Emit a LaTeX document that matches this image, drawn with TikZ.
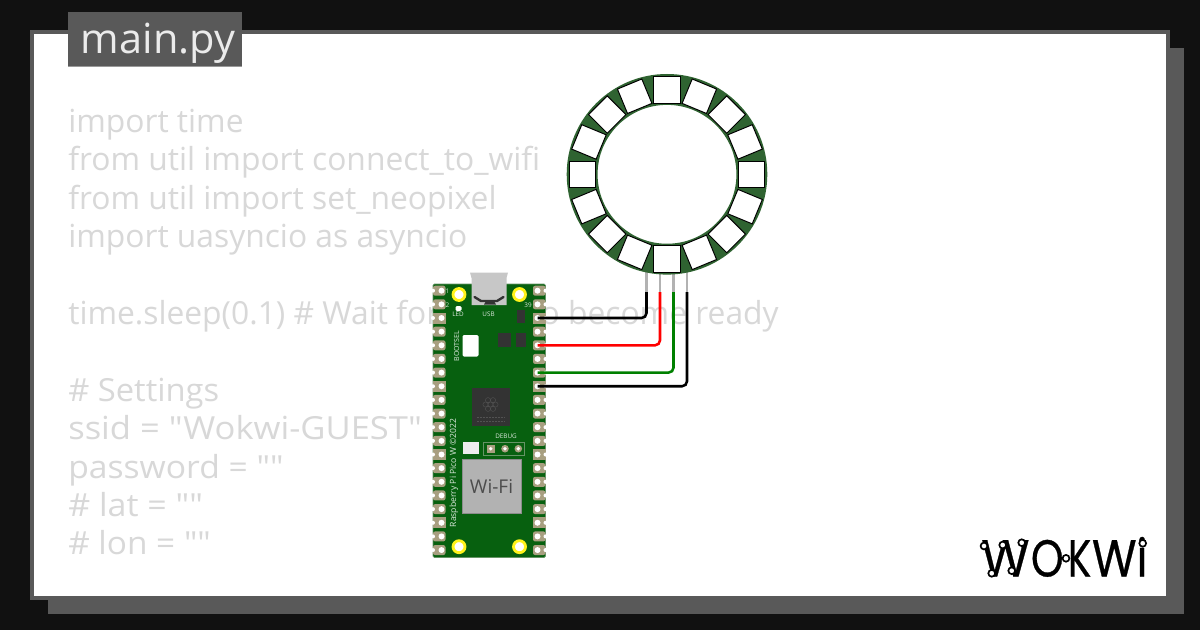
\documentclass[tikz,border=0pt]{standalone}
\usepackage{fontspec}
\setmainfont{Open Sans}
\newfontfamily\codefont{Open Sans}
\newfontfamily\logofont[FakeBold=0.6]{Poppins}
\definecolor{pagedark}{HTML}{111111}
\definecolor{cardgray}{HTML}{595959}
\definecolor{codegray}{HTML}{D8D8D8}
\definecolor{boardgreen}{HTML}{07600F}
\definecolor{ringgreen}{HTML}{2F6331}
\definecolor{padtan}{HTML}{A89F80}
\definecolor{chipdark}{HTML}{333333}
\begin{document}
\begin{tikzpicture}[x=0.025cm, y=-0.025cm,
    codeline/.style={anchor=base west, inner sep=0, text=codegray, font=\codefont\fontsize{22.6}{27}\selectfont},
    silk/.style={inner sep=0, text=white!85!boardgreen, font=\fontsize{4.5}{5}\selectfont},
    led/.style={draw=black, fill=white, line width=0.7pt, minimum size=0.66cm, inner sep=0},
    mounthole/.style={circle, draw=yellow!90!white, fill=white, line width=2pt, minimum size=0.3cm, inner sep=0},
    logoring/.style={circle, draw=black, fill=white, line width=1.2pt, minimum size=0.17cm, inner sep=0},
    wire/.style={line width=1.8pt, rounded corners=3.5pt},
    ringpin/.style={line width=1.8pt, color=black!30}]

  % page and card
  \useasboundingbox (0,0) rectangle (1200,630);
  \fill[pagedark] (0,0) rectangle (1200,630);
  \fill[cardgray] (48,48) rectangle (1184,614);
  \fill[white, draw=cardgray, line width=2.8pt] (32,32) rectangle (1168,598);

  % code behind the parts
  \node[codeline] (line1) at (68,132.5) {import time};
  \node[codeline] (line2) at (68,170.9) {from util import connect\_to\_wifi};
  \node[codeline] (line3) at (68,209.3) {from util import set\_neopixel};
  \node[codeline] (line4) at (68,247.7) {import uasyncio as asyncio};
  \node[codeline] (line5) at (68,324.5) {time.sleep(0.1) \# Wait for};
  \node[codeline, anchor=base east] (line5b) at (779,324.5) {o become ready};
  \node[codeline] (line6) at (68,401.3) {\scalebox{1.03}[1]{\# Settings}};
  \node[codeline] (line7) at (68,439.7) {\scalebox{1.087}[1]{ssid = "Wokwi-GUEST"}};
  \node[codeline] (line8) at (68,478.1) {\scalebox{1.059}[1]{password = ""}};
  \node[codeline] (line9) at (68,516.5) {\scalebox{1.07}[1]{\# lat = ""}};
  \node[codeline] (line10) at (68,554.9) {\scalebox{1.05}[1]{\# lon = ""}};

  % file tab
  \fill[cardgray] (68,12) rectangle (241.7,66);
  \draw[black!40, line width=0.7pt] (68,66) -- (241.7,66);
  \node[anchor=base, inner sep=0, text=white!92!black, font=\fontsize{29.5}{36}\selectfont] (title) at (158,54) {main.py};

  % pico board
  \fill[boardgreen, draw=green!30!black!60!white, line width=0.5pt, rounded corners=1pt] (433,284) rectangle (545.5,557.5);

  % usb socket
  \fill[black!22] (470,272.5) -- (508,272.5) -- (506.5,278) -- (506.5,305) -- (471.5,305) -- (471.5,278) -- cycle;
  \draw[chipdark, line width=1.7pt, line cap=round, line join=round] (474.5,297) -- (481,301) -- (497,301) -- (503.5,297);
  \fill[chipdark] (486,301) -- (494,301) -- (496,304.5) -- (484,304.5) -- cycle;

  \foreach \i in {1,...,20} {
    \pgfmathsetmacro{\py}{290.7+(\i-1)*13.65}
    \fill[padtan, rounded corners=1.5pt] (433,\py-5) rectangle (445.5,\py+5);
    \fill[padtan, rounded corners=1.5pt] (533,\py-5) rectangle (545.5,\py+5);
  }
  % square ground pads
  \foreach \i in {3,8,13,18} {
    \pgfmathsetmacro{\py}{290.7+(\i-1)*13.65}
    \fill[padtan] (433,\py-5.5) rectangle (445.5,\py+5.5);
    \fill[padtan] (533,\py-5.5) rectangle (545.5,\py+5.5);
  }
  \foreach \i in {1,...,20} {
    \pgfmathsetmacro{\py}{290.7+(\i-1)*13.65}
    \fill[white] (441.5,\py) circle (3);
    \fill[white] (433,\py) circle (2);
    \fill[white] (545.5,\py) circle (2);
    \node[circle, fill=white, inner sep=0, minimum size=0.15cm] (pin\i) at (537.5,\py) {};
  }

  \node[mounthole] (hole1) at (459,294.5) {};
  \node[mounthole] (hole2) at (519.5,294.5) {};
  \node[mounthole] (hole3) at (459,546.7) {};
  \node[mounthole] (hole4) at (519.5,546.7) {};

  \fill[white, rounded corners=1pt] (455.5,306) rectangle (461.5,311);
  \node[silk] (ledlabel) at (458,314.5) {LED};
  \node[silk] (usblabel) at (488.5,314.5) {USB};
  \node[silk] (one) at (447.5,291) {1};
  \node[silk] (two) at (447.5,305) {2};
  \node[silk] (last) at (528,305) {39};
  \node[silk, rotate=90, font=\fontsize{5}{6}\selectfont] (bootlabel) at (456.5,346) {BOOTSEL};

  \fill[white, rounded corners=1pt] (462.5,335) rectangle (478.5,356.5);
  \fill[chipdark] (517.3,310) rectangle (525,323.3);
  \fill[chipdark] (497.7,333.3) rectangle (511,346.7);
  \fill[chipdark] (516,333.3) rectangle (526,346.7);

  % rp2040 with its logo
  \fill[chipdark] (472.3,388.3) rectangle (510,425.5);
  \foreach \a in {0,60,...,300} \draw[black!68, line width=0.3pt] ([shift={(\a:5)}]490.5,404.5) circle (2.6);
  \draw[black!68, line width=0.3pt] (490.5,404.5) circle (2.6);
  \draw[black!68, line width=0.6pt, dash pattern=on 1.5pt off 0.6pt] (477,417.5) -- (505,417.5);
  \draw[black!68, line width=0.6pt, dash pattern=on 1.5pt off 0.6pt] (477,421.5) -- (505,421.5);

  \fill[white!93!black] (462.7,442.3) rectangle (478.7,453.7);
  \draw[green!30!black!60!white, line width=0.5pt] (483.3,442.3) rectangle (524.7,455);
  \node[silk] (debuglabel) at (506,436) {DEBUG};
  \fill[padtan] (487,445) rectangle (494.5,452.5);
  \fill[padtan] (505,448.7) circle (3.8);
  \fill[padtan] (518.3,448.7) circle (3.8);
  \foreach \x in {490.7,505,518.3} \fill[white] (\x,448.7) circle (1.9);

  \fill[black!30, draw=black!45, line width=0.4pt] (462.3,459.3) rectangle (521.7,513.3);
  \node[inner sep=0, text=black!70, font=\fontsize{13.5}{17}\selectfont] (wifi) at (491.5,486.5) {Wi-Fi};
  \node[silk, rotate=90, font=\fontsize{6.1}{7}\selectfont] (boardname) at (454,473) {Raspberry Pi Pico W ©2022};

  % neopixel ring
  \coordinate (ring) at (667,174.3);
  \foreach \x in {646.5,660,673.5,687} \draw[ringpin] (\x,270) -- (\x,293);
  \fill[ringgreen] (ring) circle (100.3);
  \fill[white, draw=ringgreen, line width=0.8pt] (ring) circle (70);
  \foreach \a [count=\n] in {0,22.5,...,337.5}
    \node[led, rotate=-\a] (pixel\n) at ([shift={(\a:84.5)}]ring) {};

  % wires
  \coordinate (ringgnd) at (646.5,292);
  \coordinate (ringvcc) at (660,292);
  \coordinate (ringdin) at (673.5,292);
  \coordinate (ringout) at (687,292);
  \draw[wire, black] (pin3.center) -| (ringgnd);
  \draw[wire, red] (pin5.center) -| (ringvcc);
  \draw[wire, green!50!black] (pin7.center) -| (ringdin);
  \draw[wire, black] (pin8.center) -| (ringout);

  % logo
  \node[anchor=base west, inner sep=0, text=black, font=\logofont\fontsize{37}{40}\selectfont] (logo) at (981,576.5)
    {\scalebox{0.95}[1]{W}\hspace{1pt}\scalebox{0.8}[1]{O}\hspace{3pt}\scalebox{0.75}[1]{K}\hspace{0.5pt}\scalebox{0.88}[1]{W}\scalebox{0.85}[1]{i}};
  \node[logoring] (ring1) at (984,546) {};
  \node[logoring] (ring2) at (1002.7,545) {};
  \node[logoring] (ring3) at (1021.7,542.7) {};
  \node[logoring] (ring4) at (991.7,573.3) {};
  \node[logoring] (ring5) at (1011.7,570.7) {};
  \node[logoring] (ring6) at (1066,558.3) {};
  \node[logoring] (ring7) at (1142.7,543.3) {};

\end{tikzpicture}
\end{document}
